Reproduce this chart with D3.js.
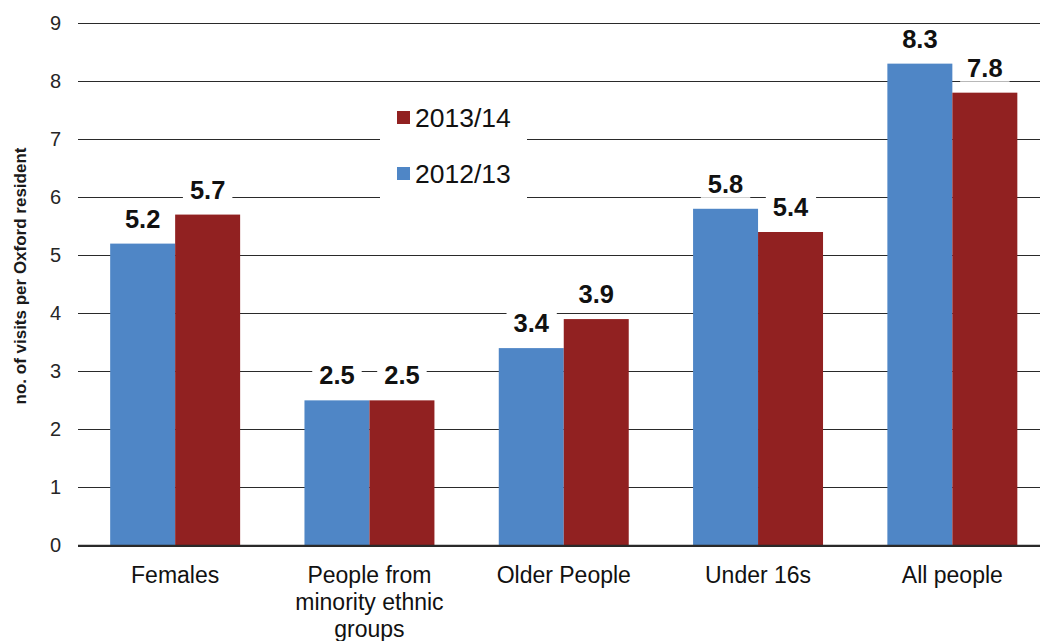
<!DOCTYPE html>
<html>
<head>
<meta charset="utf-8">
<script src="https://cdn.jsdelivr.net/npm/d3@7"></script>
<style>
  html, body { margin: 0; padding: 0; background: #fff; }
  svg { display: block; font-family: "Liberation Sans", Arial, sans-serif; }
</style>
</head>
<body>
<svg id="chart" width="1040" height="641"></svg>
<script>
// Visits per Oxford resident, by group and year
const categories = ["Females", "People from minority ethnic groups", "Older People", "Under 16s", "All people"];
const categoryLines = [["Females"], ["People from", "minority ethnic", "groups"], ["Older People"], ["Under 16s"], ["All people"]];
const seriesNames = ["2012/13", "2013/14"];
const values2012 = [5.2, 2.5, 3.4, 5.8, 8.3];
const values2013 = [5.7, 2.5, 3.9, 5.4, 7.8];
const yTicks = [0, 1, 2, 3, 4, 5, 6, 7, 8, 9];
const seriesColors = ["#4f86c6", "#912121"];

const svg = d3.select("#chart");
const left = 78, bandStep = 194.3;
const y = d3.scaleLinear().domain([0, 9]).range([545.5, 23]);
const x0 = d3.scaleBand().domain(categories).range([left, left + bandStep * categories.length]).padding(0);
const x1 = d3.scaleBand().domain(seriesNames).range([0, x0.bandwidth()]).paddingInner(0).paddingOuter(0.495);
const color = d3.scaleOrdinal().domain(seriesNames).range(seriesColors);

const rows = categories.map((c, i) => ({ category: c, values: [
  { series: seriesNames[0], value: values2012[i] },
  { series: seriesNames[1], value: values2013[i] }
]}));

// Gridlines and tick labels
const yAxis = d3.axisLeft(y).tickValues(yTicks).tickSize(-(1040 - left)).tickPadding(17).tickFormat(d3.format("d"));
const gy = svg.append("g").attr("transform", `translate(${left},0)`).call(yAxis);
gy.select(".domain").remove();
gy.selectAll(".tick line").attr("stroke", "#2a2a2a").attr("stroke-width", 1).attr("shape-rendering", "crispEdges");
gy.selectAll(".tick text").attr("font-size", 20).attr("fill", "#262626").attr("font-family", "Liberation Sans, Arial, sans-serif");

// Y axis title
svg.append("text")
  .attr("transform", "translate(26,276) rotate(-90)")
  .attr("text-anchor", "middle")
  .attr("font-size", 17).attr("font-weight", "bold").attr("fill", "#1a1a1a")
  .text("no. of visits per Oxford resident");

// Bars
const groups = svg.append("g").selectAll("g").data(rows).join("g")
  .attr("transform", d => `translate(${x0(d.category)},0)`);
groups.selectAll("rect").data(d => d.values).join("rect")
  .attr("x", d => x1(d.series))
  .attr("y", d => y(d.value))
  .attr("width", x1.bandwidth())
  .attr("height", d => y(0) - y(d.value))
  .attr("fill", d => color(d.series));

// Baseline
svg.append("line")
  .attr("x1", left).attr("x2", 1040).attr("y1", y(0)).attr("y2", y(0))
  .attr("stroke", "#2a2a2a").attr("stroke-width", 1.5);

// Value labels with white backing
const labelLayer = svg.append("g");
rows.forEach(r => {
  r.values.forEach(v => {
    const cx = x0(r.category) + x1(v.series) + x1.bandwidth() / 2;
    const g = labelLayer.append("g");
    const t = g.append("text")
      .attr("x", cx).attr("y", y(v.value) - 16)
      .attr("text-anchor", "middle")
      .attr("font-size", 25.5).attr("font-weight", "bold").attr("fill", "#111")
      .text(d3.format(".1f")(v.value));
    const b = t.node().getBBox();
    g.insert("rect", "text")
      .attr("x", b.x - 7).attr("y", b.y + 2)
      .attr("width", b.width + 14).attr("height", b.height - 2)
      .attr("fill", "#fff");
  });
});

// Category labels
const xl = svg.append("g");
categories.forEach((c, i) => {
  const t = xl.append("text")
    .attr("x", x0(c) + x0.bandwidth() / 2)
    .attr("y", 583)
    .attr("text-anchor", "middle")
    .attr("font-size", 23).attr("fill", "#111");
  categoryLines[i].forEach((line, j) => {
    t.append("tspan").attr("x", x0(c) + x0.bandwidth() / 2).attr("dy", j === 0 ? 0 : 27).text(line);
  });
});

// Legend
const legend = svg.append("g");
legend.append("rect").attr("x", 380).attr("y", 88).attr("width", 147).attr("height", 116).attr("fill", "#fff");
const legendOrder = ["2013/14", "2012/13"];
legendOrder.forEach((s, i) => {
  const cy = 117.5 + i * 56;
  legend.append("rect").attr("x", 397).attr("y", cy - 6.5).attr("width", 13).attr("height", 13).attr("fill", color(s));
  legend.append("text").attr("x", 415).attr("y", cy + 9).attr("font-size", 26.5).attr("fill", "#111").text(s);
});
</script>
</body>
</html>
